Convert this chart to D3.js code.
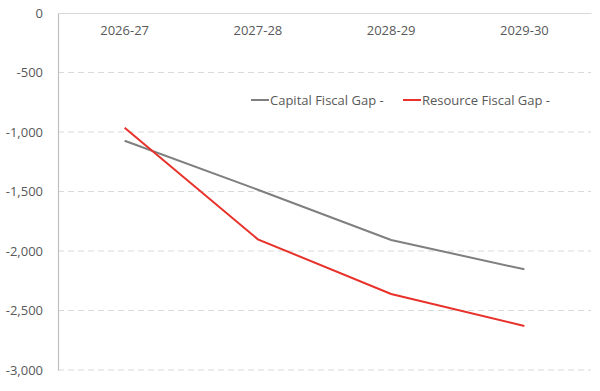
<!DOCTYPE html>
<html><head><meta charset="utf-8">
<script src="https://cdn.jsdelivr.net/npm/d3@7"></script>
<style>body{margin:0;background:#fff;} svg{display:block;font-family:"Open Sans",sans-serif;}</style>
</head><body><svg id="c" width="600" height="391"></svg>
<script>
const categories = ["2026-27","2027-28","2028-29","2029-30"];
const capitalGap = [-1073,-1485,-1908,-2154];
const resourceGap = [-964,-1902,-2361,-2630];
const yTicks = [0,-500,-1000,-1500,-2000,-2500,-3000];
const seriesNames = ["Capital Fiscal Gap -","Resource Fiscal Gap -"];
const seriesColors = ["#7f7f7f","#e8312a"];

const svg = d3.select("#c");
const L=58, R=591, T=13, B=370;
const x = d3.scaleBand().domain(categories).range([L,R]);
const y = d3.scaleLinear().domain([-3000,0]).range([B,T]);
const fmt = d3.format(",");
const yFmt = d => fmt(d).replace("\u2212","-");

// gridlines
svg.append("g").selectAll("line").data(yTicks.filter(d=>d!==0)).join("line")
  .attr("x1",L).attr("x2",R).attr("y1",d=>y(d)).attr("y2",d=>y(d))
  .attr("stroke","#d9d9d9").attr("stroke-width",1).attr("stroke-dasharray","6,4");

// y axis
const ya = svg.append("g").attr("transform",`translate(${L},0)`)
  .call(d3.axisLeft(y).tickValues(yTicks).tickSize(0).tickPadding(15).tickFormat(yFmt));
ya.select(".domain").attr("stroke","#bfbfbf").attr("stroke-width",1.2);
ya.selectAll("text").attr("font-size",13).attr("fill","#595959").attr("font-family","'Open Sans',sans-serif");

// x axis at 0
const xa = svg.append("g").attr("transform",`translate(0,${y(0)})`)
  .call(d3.axisBottom(x).tickSize(0).tickPadding(13));
xa.select(".domain").attr("stroke","#d9d9d9").attr("stroke-width",1.2);
xa.selectAll("text").attr("font-size",13).attr("fill","#595959").attr("font-family","'Open Sans',sans-serif");

const line = d3.line().x((d,i)=>x(categories[i])+x.bandwidth()/2).y(d=>y(d));
[capitalGap,resourceGap].forEach((s,i)=>{
  svg.append("path").datum(s).attr("d",line).attr("fill","none")
    .attr("stroke",seriesColors[i]).attr("stroke-width",2);
});

// legend
const legX=[251,403];
seriesNames.forEach((n,i)=>{
  const g=svg.append("g").attr("transform",`translate(${legX[i]},100)`);
  g.append("line").attr("x1",0).attr("x2",18).attr("stroke",seriesColors[i]).attr("stroke-width",2);
  g.append("text").attr("x",19).attr("y",0).attr("dy","0.35em").attr("font-size",13)
    .attr("fill","#595959").text(n);
});
</script></body></html>
